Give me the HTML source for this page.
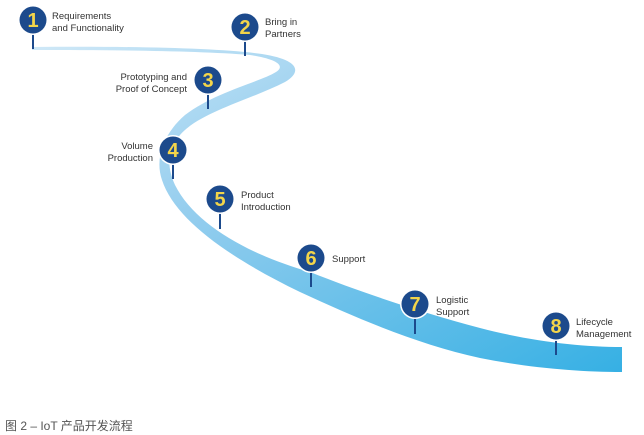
<!DOCTYPE html>
<html><head><meta charset="utf-8"><style>
html,body{margin:0;padding:0;background:#fff;width:644px;height:435px;overflow:hidden}
svg{position:absolute;left:0;top:0}
.t{font-family:"Liberation Sans",sans-serif;font-size:9.5px;fill:#333}
.n{font-family:"Liberation Sans",sans-serif;font-size:20px;font-weight:bold;fill:#f3d54a;text-anchor:middle}
.cap{position:absolute;left:5px;top:417px;font-family:"Liberation Sans","Noto Sans CJK SC",sans-serif;font-size:12px;color:#555}
</style></head><body>
<svg width="644" height="435" viewBox="0 0 644 435">
<defs>
<linearGradient id="g" x1="0" y1="0" x2="1" y2="1" gradientUnits="objectBoundingBox">
<stop offset="0" stop-color="#cfe8f7"/><stop offset="0.4" stop-color="#93cdee"/><stop offset="1" stop-color="#36b0e4"/>
</linearGradient>
<g id="pin"><circle r="15" fill="#fff"/><circle r="13.5" fill="#1c4a8c"/></g>
</defs>
<path fill="url(#g)" d="M32,47 C130,46 220,48 262,54 C300,60 302,72 285,82 C250,100 200,112 180,135 C168,150 166,165 175,185 C195,225 250,255 310,272 C360,292 420,312 480,328 C530,341 580,347 622,347 L622,372 C580,372 530,368 480,358 C420,345 360,320 300,292 C230,258 175,220 162,180 C155,160 162,135 185,115 C215,92 260,82 276,72 C288,64 270,58 250,55 C200,51 120,50 32,50 Z"/>
<g stroke="#1c4a8c" stroke-width="2">
<line x1="33" y1="20" x2="33" y2="49"/><line x1="245" y1="27" x2="245" y2="56"/>
<line x1="208" y1="80" x2="208" y2="109"/><line x1="173" y1="150" x2="173" y2="179"/>
<line x1="220" y1="199" x2="220" y2="229"/><line x1="311" y1="258" x2="311" y2="287"/>
<line x1="415" y1="304" x2="415" y2="334"/><line x1="556" y1="326" x2="556" y2="355"/>
</g>
<use href="#pin" x="33" y="20"/><use href="#pin" x="245" y="27"/><use href="#pin" x="208" y="80"/>
<use href="#pin" x="173" y="150"/><use href="#pin" x="220" y="199"/><use href="#pin" x="311" y="258"/>
<use href="#pin" x="415" y="304"/><use href="#pin" x="556" y="326"/>
<text class="n" x="33" y="27">1</text><text class="n" x="245" y="34">2</text><text class="n" x="208" y="87">3</text>
<text class="n" x="173" y="157">4</text><text class="n" x="220" y="206">5</text><text class="n" x="311" y="265">6</text>
<text class="n" x="415" y="311">7</text><text class="n" x="556" y="333">8</text>
<text class="t" x="52" y="19">Requirements</text><text class="t" x="52" y="31">and Functionality</text>
<text class="t" x="265" y="25">Bring in</text><text class="t" x="265" y="37">Partners</text>
<g text-anchor="end"><text class="t" x="187" y="80">Prototyping and</text><text class="t" x="187" y="92">Proof of Concept</text>
<text class="t" x="153" y="149">Volume</text><text class="t" x="153" y="161">Production</text></g>
<text class="t" x="241" y="198">Product</text><text class="t" x="241" y="210">Introduction</text>
<text class="t" x="332" y="262">Support</text>
<text class="t" x="436" y="303">Logistic</text><text class="t" x="436" y="315">Support</text>
<text class="t" x="576" y="325">Lifecycle</text><text class="t" x="576" y="337">Management</text>
</svg>
<div class="cap">图 2 – IoT 产品开发流程</div>
</body></html>
